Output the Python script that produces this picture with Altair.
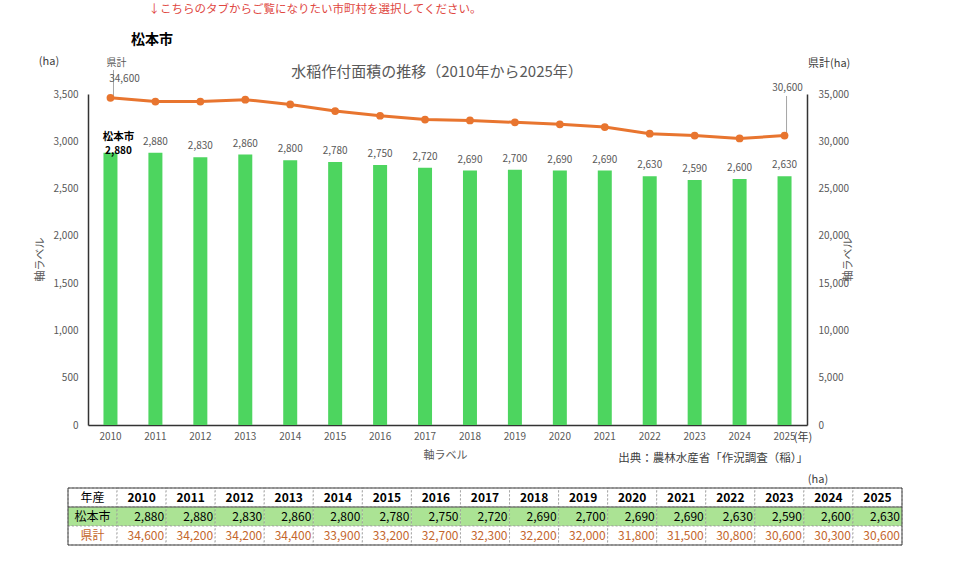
import altair as alt
import pandas as pd

# Paddy rice planted area (ha), Matsumoto city and Nagano prefecture total
years = [str(y) for y in range(2010, 2026)]
matsumoto = [2880, 2880, 2830, 2860, 2800, 2780, 2750, 2720, 2690, 2700,
             2690, 2690, 2630, 2590, 2600, 2630]
prefecture = [34600, 34200, 34200, 34400, 33900, 33200, 32700, 32300, 32200,
              32000, 31800, 31500, 30800, 30600, 30300, 30600]

FONT = "Noto Sans CJK JP"
GREEN = "#4dd55f"
ORANGE = "#e8752f"
GRAY = "#595959"
DARK = "#404040"
AXIS = "#333333"
ROW_GREEN = "#abe394"
PREF_TEXT = "#c4662c"
COMMA = "format(datum.value, ',')"

W, H = 719, 331
PAD = {"left": 88, "top": 94, "right": 153, "bottom": 144}

df = pd.DataFrame({"year": years, "city": matsumoto, "pref": prefecture})

# ---- main chart -----------------------------------------------------------
x_main = alt.X(
    "year:N", sort=years,
    scale=alt.Scale(domain=years, paddingInner=0, paddingOuter=0),
    axis=alt.Axis(
        title="軸ラベル", titleColor=GRAY, titleFontSize=11,
        titleFontWeight="normal", titleFont=FONT, titleX=357, titleY=24,
        titleBaseline="top",
        labelAngle=0, labelColor=GRAY, labelFontSize=10, labelFont=FONT,
        labelPadding=6, ticks=False, tickSize=0,
        domainColor=AXIS, domainWidth=1.5, grid=False,
    ),
)

y_city = alt.Y(
    "city:Q",
    scale=alt.Scale(domain=[0, 3500], nice=False),
    axis=alt.Axis(
        values=list(range(0, 3501, 500)), labelExpr=COMMA,
        title="軸ラベル", titleColor=GRAY, titleFontSize=11,
        titleFontWeight="normal", titleFont=FONT, titleAngle=270,
        titleX=-48, titleY=165, titleAlign="center", titleBaseline="middle",
        labelColor=GRAY, labelFontSize=10, labelFont=FONT, labelPadding=10,
        ticks=False, tickSize=0, domainColor=AXIS, domainWidth=1.5,
        grid=False,
    ),
)

y_pref = alt.Y(
    "pref:Q",
    scale=alt.Scale(domain=[0, 35000], nice=False),
    axis=alt.Axis(
        orient="right",
        values=list(range(0, 35001, 5000)), labelExpr=COMMA,
        title="軸ラベル", titleColor=GRAY, titleFontSize=11,
        titleFontWeight="normal", titleFont=FONT, titleAngle=270,
        titleX=41, titleY=165, titleAlign="center", titleBaseline="middle",
        labelColor=GRAY, labelFontSize=10, labelFont=FONT, labelPadding=11,
        ticks=False, tickSize=0, domainColor=AXIS, domainWidth=1.5,
        grid=False,
    ),
)

base = alt.Chart(df)

bars = base.mark_bar(size=14, color=GREEN).encode(x=x_main, y=y_city)

bar_labels = alt.Chart(df.iloc[1:]).mark_text(
    baseline="bottom", dy=-6, color=GRAY, fontSize=10, font=FONT
).encode(x=x_main, y=y_city, text=alt.Text("city:Q", format=","))

first_bar = df.iloc[:1]
first_bar_value = alt.Chart(first_bar).mark_text(
    baseline="bottom", dx=8, dy=3, color="#000000", fontSize=10,
    fontWeight="bold", font=FONT
).encode(x=x_main, y=y_city, text=alt.Text("city:Q", format=","))

first_bar_name = alt.Chart(first_bar).mark_text(
    baseline="bottom", dx=8, dy=-11, color="#000000", fontSize=10.5,
    fontWeight="bold", font=FONT
).encode(x=x_main, y=y_city, text=alt.value("松本市"))

bar_part = alt.layer(bars, bar_labels, first_bar_value, first_bar_name)

first_pt = df.iloc[:1]
last_pt = df.iloc[-1:]

leader_first = alt.Chart(first_pt).mark_rule(
    color="#a6a6a6", strokeWidth=1, xOffset=3
).encode(x=x_main, y=y_pref, y2=alt.value(-24))

leader_last = alt.Chart(last_pt).mark_rule(
    color="#a6a6a6", strokeWidth=1, xOffset=2
).encode(x=x_main, y=y_pref, y2=alt.value(2))

line = base.mark_line(color=ORANGE, strokeWidth=3).encode(x=x_main, y=y_pref)
points = base.mark_circle(size=60, color=ORANGE, opacity=1).encode(
    x=x_main, y=y_pref)

pref_first_value = alt.Chart(first_pt).mark_text(
    baseline="middle", dx=14, dy=-19, color=GRAY, fontSize=10, font=FONT
).encode(x=x_main, y=y_pref, text=alt.Text("pref:Q", format=","))

pref_first_name = alt.Chart(first_pt).mark_text(
    baseline="middle", dx=6, dy=-35, color=GRAY, fontSize=10, font=FONT
).encode(x=x_main, y=y_pref, text=alt.value("県計"))

pref_last_value = alt.Chart(last_pt).mark_text(
    baseline="middle", dx=3, dy=-48, color=GRAY, fontSize=10, font=FONT
).encode(x=x_main, y=y_pref, text=alt.Text("pref:Q", format=","))

line_part = alt.layer(leader_first, leader_last, line, points,
                      pref_first_value, pref_first_name, pref_last_value)

chart_part = alt.layer(bar_part, line_part).resolve_scale(y="independent")

# ---- data table below the chart ------------------------------------------
cols = ["年産"] + years
rows = ["年産", "松本市", "県計"]

cells = []
for c in cols:
    cells.append({"col": c, "row": "年産", "label": c})
for name, values in (("松本市", matsumoto), ("県計", prefecture)):
    cells.append({"col": "年産", "row": name, "label": name})
    for y, v in zip(years, values):
        cells.append({"col": y, "row": name, "value": v})
tdf = pd.DataFrame(cells)

tx = alt.X("col:N", sort=cols,
           scale=alt.Scale(domain=cols, range=[-20, 814],
                           paddingInner=0, paddingOuter=0), axis=None)
tx_end = alt.X("col:N", sort=cols, bandPosition=1,
               scale=alt.Scale(domain=cols, range=[-20, 814],
                               paddingInner=0, paddingOuter=0), axis=None)
ty = alt.Y("row:N", sort=rows,
           scale=alt.Scale(domain=rows, range=[394, 451],
                           paddingInner=0, paddingOuter=0), axis=None)

table_cells = alt.Chart(tdf).mark_rect(
    stroke="#9a9a9a", strokeWidth=0.8, strokeDash=[2, 2]
).encode(
    x=tx, y=ty,
    fill=alt.Fill("row:N", scale=alt.Scale(domain=rows,
                  range=["#ffffff", ROW_GREEN, "#ffffff"]), legend=None),
)

header_line = alt.Chart(pd.DataFrame({"k": [0]})).mark_rule(
    color="#555555", strokeWidth=1
).encode(x=alt.value(-20), x2=alt.value(814), y=alt.value(413))

table_frame = alt.Chart(pd.DataFrame({"k": [0]})).mark_rect(
    fillOpacity=0, stroke="#404040", strokeWidth=1
).encode(x=alt.value(-20), x2=alt.value(814), y=alt.value(394),
         y2=alt.value(451))

hdr = tdf[(tdf.row == "年産") & (tdf.col != "年産")]
header_years = alt.Chart(hdr).mark_text(
    fontSize=12, fontWeight="bold", color="#000000", font=FONT
).encode(x=tx, y=ty, text="label:N")

corner = tdf[(tdf.row == "年産") & (tdf.col == "年産")]
header_corner = alt.Chart(corner).mark_text(
    fontSize=12, color="#000000", font=FONT
).encode(x=tx, y=ty, text="label:N")

city_name = alt.Chart(tdf[(tdf.row == "松本市") & (tdf.col == "年産")]).mark_text(
    fontSize=12, color="#000000", font=FONT
).encode(x=tx, y=ty, text="label:N")

pref_name = alt.Chart(tdf[(tdf.row == "県計") & (tdf.col == "年産")]).mark_text(
    fontSize=12, color=PREF_TEXT, font=FONT
).encode(x=tx, y=ty, text="label:N")

city_vals = alt.Chart(tdf[(tdf.row == "松本市") & (tdf.col != "年産")]).mark_text(
    fontSize=12, color="#000000", font=FONT, align="right", dx=-2
).encode(x=tx_end, y=ty, text=alt.Text("value:Q", format=","))

pref_vals = alt.Chart(tdf[(tdf.row == "県計") & (tdf.col != "年産")]).mark_text(
    fontSize=12, color=PREF_TEXT, font=FONT, align="right", dx=-2
).encode(x=tx_end, y=ty, text=alt.Text("value:Q", format=","))

table_part = alt.layer(table_cells, header_line, table_frame, header_years,
                       header_corner, city_name, pref_name, city_vals,
                       pref_vals)


# ---- free-standing texts -------------------------------------------------
def note(text, x, y, size=11, color=DARK, align="center", weight="normal"):
    return alt.Chart(pd.DataFrame({"t": [text]})).mark_text(
        fontSize=size, color=color, align=align, baseline="middle",
        fontWeight=weight, font=FONT
    ).encode(x=alt.value(x), y=alt.value(y), text="t:N")


notes = [
    note("↓こちらのタブからご覧になりたい市町村を選択してください。", 227, -84,
         size=11.5, color="#e0473f"),
    note("松本市", 64, -54, size=14, color="#000000", weight="bold"),
    note("(ha)", -39, -32, size=11),
    note("県計(ha)", 720, -30, size=11, align="left"),
    note("水稲作付面積の推移（2010年から2025年）", 349, -22, size=15, color=GRAY),
    note("(年)", 715, 344, size=11),
    note("出典：農林水産省「作況調査（稲）」", 720, 365, size=11.5,
         align="right"),
    note("(ha)", 730, 386, size=11),
]

chart = alt.layer(chart_part, table_part, *notes).resolve_scale(
    x="independent", y="independent"
).properties(
    width=W, height=H,
    autosize=alt.AutoSizeParams(type="none"),
    padding=PAD,
    background="#ffffff",
).configure_view(stroke=None)

chart.save("out.html", embed_options={"renderer": "svg", "actions": False})
